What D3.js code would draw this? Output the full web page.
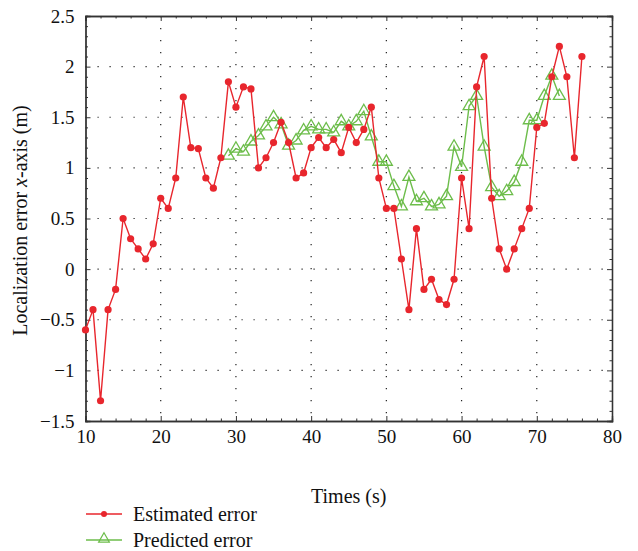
<!DOCTYPE html>
<html>
<head>
<meta charset="utf-8">
<script src="https://cdnjs.cloudflare.com/ajax/libs/d3/7.8.5/d3.min.js"></script>
<style>
body { margin: 0; background: #fff; }
text { font-family: "Liberation Serif", "DejaVu Serif", serif; fill: #111; }
</style>
</head>
<body>
<svg id="chart" width="638" height="551"></svg>
<script>
// estimated error, one point per second from t=10
var estStart = 10;
var estimated = [-0.6, -0.4, -1.3, -0.4, -0.2, 0.5, 0.3, 0.2, 0.1, 0.25,
    0.7, 0.6, 0.9, 1.7, 1.2, 1.19, 0.9, 0.8, 1.1, 1.85,
    1.6, 1.8, 1.78, 1.0, 1.1, 1.25, 1.45, 1.25, 0.9, 0.95,
    1.2, 1.3, 1.2, 1.28, 1.15, 1.4, 1.25, 1.38, 1.6, 0.9,
    0.6, 0.6, 0.1, -0.4, 0.4, -0.2, -0.1, -0.3, -0.35, -0.1,
    0.9, 0.4, 1.8, 2.1, 0.7, 0.2, 0.0, 0.2, 0.4, 0.6,
    1.4, 1.44, 1.9, 2.2, 1.9, 1.1, 2.1];

// predicted error starts at t=29
var predStart = 29;
var predicted = [1.12, 1.19, 1.16, 1.26, 1.32, 1.41, 1.5, 1.43, 1.22, 1.27,
    1.37, 1.41, 1.38, 1.38, 1.35, 1.46, 1.41, 1.46, 1.56, 1.31,
    1.06, 1.06, 0.82, 0.62, 0.91, 0.67, 0.7, 0.62, 0.64, 0.72,
    1.21, 1.01, 1.61, 1.71, 1.21, 0.81, 0.72, 0.77, 0.86, 1.06,
    1.47, 1.47, 1.71, 1.91, 1.71];

var xTicks = [10, 20, 30, 40, 50, 60, 70, 80];
var yTicks = [-1.5, -1, -0.5, 0, 0.5, 1, 1.5, 2, 2.5];

var svg = d3.select("#chart");
var pLeft = 85.5, pRight = 612, pTop = 16, pBottom = 421;

var x = d3.scaleLinear().domain([10, 80]).range([pLeft, pRight]);
var y = d3.scaleLinear().domain([-1.5, 2.5]).range([pBottom, pTop]);

var fmt = function(d) { return String(d).replace("-", "\u2212"); };

// dotted grid
var grid = svg.append("g");
grid.selectAll(".gx").data(xTicks.slice(1, -1)).enter().append("line")
    .attr("x1", function(d) { return x(d); }).attr("x2", function(d) { return x(d); })
    .attr("y1", pTop).attr("y2", pBottom)
    .attr("stroke", "#222").attr("stroke-width", 1.2).attr("stroke-dasharray", "1.2,10.8");
grid.selectAll(".gy").data(yTicks.slice(1, -1)).enter().append("line")
    .attr("y1", function(d) { return y(d); }).attr("y2", function(d) { return y(d); })
    .attr("x1", pLeft).attr("x2", pRight)
    .attr("stroke", "#222").attr("stroke-width", 1.2).attr("stroke-dasharray", "1.2,10.8");

// axes with inward ticks
svg.append("g").attr("transform", "translate(0," + pBottom + ")")
    .call(d3.axisBottom(x).tickValues(xTicks).tickSize(-5).tickPadding(9).tickFormat(fmt));
svg.append("g").attr("transform", "translate(0," + pTop + ")")
    .call(d3.axisTop(x).tickValues(xTicks).tickSize(-5).tickFormat(""));
svg.append("g").attr("transform", "translate(" + pLeft + ",0)")
    .call(d3.axisLeft(y).tickValues(yTicks).tickSize(-5).tickPadding(11).tickFormat(fmt));
svg.append("g").attr("transform", "translate(" + pRight + ",0)")
    .call(d3.axisRight(y).tickValues(yTicks).tickSize(-5).tickFormat(""));

// minor ticks
var xMinor = d3.range(12, 80, 2).filter(function(d) { return d % 10 != 0; });
var yMinor = d3.range(-1.4, 2.5, 0.1).filter(function(d) { return Math.abs(d * 2 - Math.round(d * 2)) > 0.01; });
svg.append("g").attr("transform", "translate(0," + pBottom + ")")
    .call(d3.axisBottom(x).tickValues(xMinor).tickSize(-2.5).tickFormat(""));
svg.append("g").attr("transform", "translate(0," + pTop + ")")
    .call(d3.axisTop(x).tickValues(xMinor).tickSize(-2.5).tickFormat(""));
svg.append("g").attr("transform", "translate(" + pLeft + ",0)")
    .call(d3.axisLeft(y).tickValues(yMinor).tickSize(-2.5).tickFormat(""));
svg.append("g").attr("transform", "translate(" + pRight + ",0)")
    .call(d3.axisRight(y).tickValues(yMinor).tickSize(-2.5).tickFormat(""));

svg.selectAll(".domain").attr("stroke", "#333").attr("stroke-width", 1.3);
svg.selectAll(".tick line").attr("stroke", "#333");
svg.selectAll(".tick text").attr("font-size", 19).attr("fill", "#111")
    .style("font-family", "'Liberation Serif', 'DejaVu Serif', serif");

// axis titles
svg.append("text").attr("x", (pLeft + pRight) / 2).attr("y", 503)
    .attr("text-anchor", "middle").attr("font-size", 20).text("Times (s)");

var yt = svg.append("text")
    .attr("transform", "translate(27," + ((pTop + pBottom) / 2 + 2) + ") rotate(-90)")
    .attr("text-anchor", "middle").attr("font-size", 20);
yt.append("tspan").text("Localization error ");
yt.append("tspan").attr("font-style", "italic").text("x");
yt.append("tspan").text("-axis (m)");

var red = "#e8262d", green = "#6dbd4b";

var estData = estimated.map(function(v, i) { return { t: estStart + i, v: v }; });
var predData = predicted.map(function(v, i) { return { t: predStart + i, v: v }; });

var line = d3.line()
    .x(function(d) { return x(d.t); })
    .y(function(d) { return y(d.v); });

var tri = d3.symbol().type(d3.symbolTriangle).size(62);

// predicted series
svg.append("path").datum(predData).attr("d", line)
    .attr("fill", "none").attr("stroke", green).attr("stroke-width", 1.4);
svg.selectAll(".tri").data(predData).enter().append("path")
    .attr("d", tri)
    .attr("transform", function(d) { return "translate(" + x(d.t) + "," + y(d.v) + ")"; })
    .attr("fill", "none").attr("stroke", green).attr("stroke-width", 1.3);

// estimated series
svg.append("path").datum(estData).attr("d", line)
    .attr("fill", "none").attr("stroke", red).attr("stroke-width", 1.4);
svg.selectAll(".dot").data(estData).enter().append("circle")
    .attr("cx", function(d) { return x(d.t); })
    .attr("cy", function(d) { return y(d.v); })
    .attr("r", 3.6).attr("fill", red);

// legend
var lg = svg.append("g");
lg.append("line").attr("x1", 86).attr("x2", 122).attr("y1", 514).attr("y2", 514)
    .attr("stroke", red).attr("stroke-width", 1.4);
lg.append("circle").attr("cx", 104).attr("cy", 514).attr("r", 3).attr("fill", red);
lg.append("text").attr("x", 133).attr("y", 521).attr("font-size", 20).text("Estimated error");

lg.append("line").attr("x1", 86).attr("x2", 122).attr("y1", 540).attr("y2", 540)
    .attr("stroke", green).attr("stroke-width", 1.4);
lg.append("path").attr("d", d3.symbol().type(d3.symbolTriangle).size(50))
    .attr("transform", "translate(104,539)")
    .attr("fill", "none").attr("stroke", green).attr("stroke-width", 1.2);
lg.append("text").attr("x", 133).attr("y", 547).attr("font-size", 20).text("Predicted error");
</script>
</body>
</html>
